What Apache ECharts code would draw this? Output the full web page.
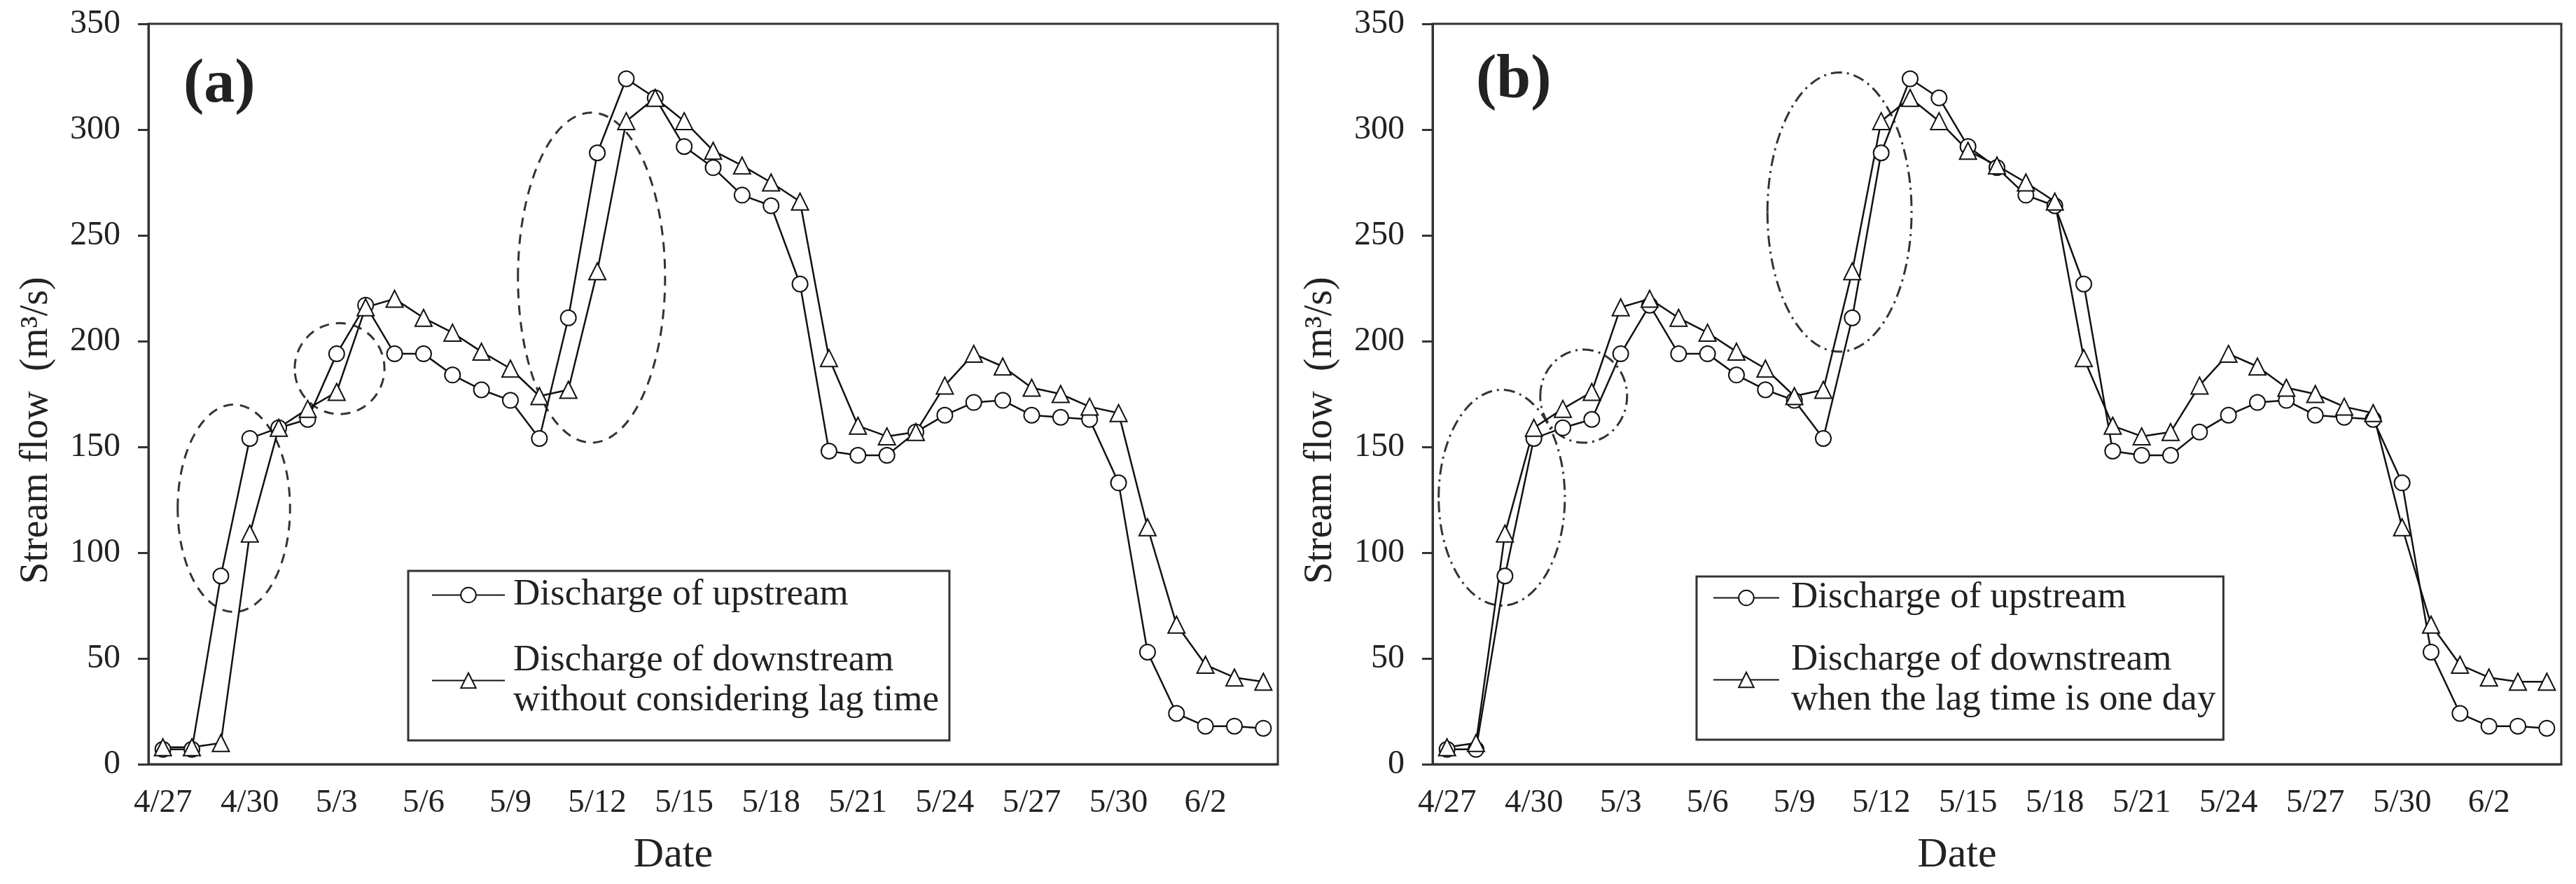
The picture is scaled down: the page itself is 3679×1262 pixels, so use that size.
<!DOCTYPE html>
<html>
<head>
<meta charset="utf-8">
<title>Stream flow</title>
<script src="https://cdn.jsdelivr.net/npm/echarts@6/dist/echarts.min.js"></script>
<style>
  html, body { margin: 0; padding: 0; background: #fff; }
  #chart { width: 3679px; height: 1262px; }
</style>
</head>
<body>
<div id="chart"></div>
<script>
// dates (one point per day)
const dates = ['4/27', '4/28', '4/29', '4/30',
  '5/1', '5/2', '5/3', '5/4', '5/5', '5/6', '5/7', '5/8', '5/9', '5/10',
  '5/11', '5/12', '5/13', '5/14', '5/15', '5/16', '5/17', '5/18', '5/19', '5/20',
  '5/21', '5/22', '5/23', '5/24', '5/25', '5/26', '5/27', '5/28', '5/29', '5/30', '5/31',
  '6/1', '6/2', '6/3', '6/4'];

// stream flow (m3/s)
const upstream = [7, 7, 89, 154, 159, 163, 194, 217, 194, 194, 184, 177, 172, 154, 211,
  289, 324, 315, 292, 282, 269, 264, 227, 148, 146, 146, 157, 165, 171, 172,
  165, 164, 163, 133, 53, 24, 18, 18, 17];
const downstreamNoLag = [8, 8, 10, 109, 159, 168, 176, 216, 220, 211, 204, 195, 187, 174, 177,
  233, 304, 315, 304, 290, 283, 275, 266, 192, 160, 155, 157, 179, 194, 188,
  178, 175, 169, 166, 112, 66, 47, 41, 39];
const downstreamLagOneDay = [8, 10, 109, 159, 168, 176, 216, 220, 211, 204, 195, 187, 174, 177, 233,
  304, 315, 304, 290, 283, 275, 266, 192, 160, 155, 157, 179, 194, 188, 178,
  175, 169, 166, 112, 66, 47, 41, 39, 39];

// highlighted areas: [centre day index, centre flow, half width in days, half height in flow]
const ellipsesA = [[2.45, 121, 1.94, 49], [6.1, 187, 1.55, 21.5], [14.8, 230, 2.54, 78]];
const ellipsesB = [[1.89, 126, 2.18, 51], [4.72, 174, 1.5, 22], [13.56, 261, 2.49, 66]];

const nameUp = 'Discharge of upstream';
const nameDownA = 'Discharge of downstream\nwithout considering lag time';
const nameDownB = 'Discharge of downstream\nwhen the lag time is one day';

const FONT = "'Liberation Serif', 'Times New Roman', serif";
const TXT = '#222';
const AX = '#333';

var myChart = echarts.init(document.getElementById('chart'));

// x axis for one panel
function makeX(idx) {
  return {
    type: 'category', gridIndex: idx, data: dates, boundaryGap: true,
    axisLine: { lineStyle: { color: AX, width: 3 } },
    axisTick: { interval: 2, length: 15, inside: false, lineStyle: { color: AX, width: 3 } },
    axisLabel: { interval: 2, margin: 32, fontFamily: FONT, fontSize: 47, color: TXT },
    splitLine: { show: false },
    name: 'Date', nameLocation: 'middle', nameGap: 100,
    nameTextStyle: { fontFamily: FONT, fontSize: 60, color: TXT, padding: [0, 114, 0, 0] }
  };
}

// y axis for one panel
function makeY(idx) {
  return {
    type: 'value', gridIndex: idx, min: 0, max: 350, interval: 50,
    axisLine: { show: true, lineStyle: { color: AX, width: 3 } },
    axisTick: { show: true, length: 15, inside: false, lineStyle: { color: AX, width: 3 } },
    axisLabel: { margin: 40, fontFamily: FONT, fontSize: 48, color: TXT },
    splitLine: { show: false },
    name: 'Stream flow  (m\u00b3/s)', nameLocation: 'middle', nameGap: 132, nameRotate: 90,
    nameTextStyle: { fontFamily: FONT, fontSize: 56, color: TXT, padding: [0, 104, 0, 0] }
  };
}

function lineSeries(name, data, idx, symbol, size) {
  return {
    type: 'line', name: name, data: data,
    xAxisIndex: idx, yAxisIndex: idx,
    symbol: symbol, symbolSize: size, showAllSymbol: true,
    lineStyle: { color: '#111', width: 2.5 },
    itemStyle: { color: '#111', borderWidth: 2.5 },
    emphasis: { disabled: true },
    z: 3
  };
}

// ellipse drawn in data space through the axes
function ellipseSeries(list, idx, dash) {
  return {
    type: 'custom', xAxisIndex: idx, yAxisIndex: idx, silent: true, clip: false, z: 2,
    data: list.map(e => [Math.floor(e[0]), e[1]]),
    renderItem: function (params, api) {
      const e = list[params.dataIndex];
      const base = Math.floor(e[0]);
      const p = api.coord([base, e[1]]);
      const band = api.size([1, 0])[0];
      const unit = Math.abs(api.coord([base, 0])[1] - api.coord([base, 100])[1]) / 100;
      return {
        type: 'ellipse',
        shape: { cx: p[0] + (e[0] - base) * band, cy: p[1], rx: e[2] * band, ry: e[3] * unit },
        style: { fill: 'none', stroke: AX, lineWidth: 3, lineDash: dash }
      };
    }
  };
}

function makeLegend(left, top, names, iconW, pad, textPad, gap) {
  return {
    left: left, top: top, orient: 'vertical', selectedMode: false,
    itemWidth: iconW, itemHeight: 27, itemGap: gap, padding: pad,
    borderColor: AX, borderWidth: 3, backgroundColor: '#fff',
    textStyle: { fontFamily: FONT, fontSize: 53, lineHeight: 57, color: TXT },
    data: [
      { name: names[0], textStyle: { padding: [0, 0, 0, textPad] } },
      // second line of the name sits under the first, icon stays on the first line
      { name: names[1], textStyle: { padding: [57, 0, 0, textPad] } }
    ]
  };
}

var option = {
  animation: false,
  backgroundColor: '#fff',
  title: [
    { text: '(a)', left: 262, top: 78, padding: 0,
      textStyle: { fontFamily: FONT, fontSize: 88, fontWeight: 'bold', color: TXT } },
    { text: '(b)', left: 2108, top: 72, padding: 0,
      textStyle: { fontFamily: FONT, fontSize: 88, fontWeight: 'bold', color: TXT } }
  ],
  grid: [
    { left: 212, top: 34, width: 1613, height: 1057, show: true, borderColor: AX, borderWidth: 3, outerBoundsMode: 'none' },
    { left: 2046, top: 34, width: 1612, height: 1057, show: true, borderColor: AX, borderWidth: 3, outerBoundsMode: 'none' }
  ],
  xAxis: [makeX(0), makeX(1)],
  yAxis: [makeY(0), makeY(1)],
  legend: [
    makeLegend(583, 815, [nameUp, nameDownA], 104, [6, 15, 0, 33], 7, 8),
    makeLegend(2423, 823, [nameUp, nameDownB], 94, [2, 11, 0, 23], 12, 3)
  ],
  series: [
    ellipseSeries(ellipsesA, 0, [14, 10]),
    lineSeries(nameUp, upstream, 0, 'emptyCircle', 22),
    lineSeries(nameDownA, downstreamNoLag, 0, 'emptyTriangle', 24),
    ellipseSeries(ellipsesB, 1, [16, 7, 3, 7]),
    lineSeries(nameUp, upstream, 1, 'emptyCircle', 22),
    lineSeries(nameDownB, downstreamLagOneDay, 1, 'emptyTriangle', 24)
  ]
};

myChart.setOption(option);
</script>
</body>
</html>
